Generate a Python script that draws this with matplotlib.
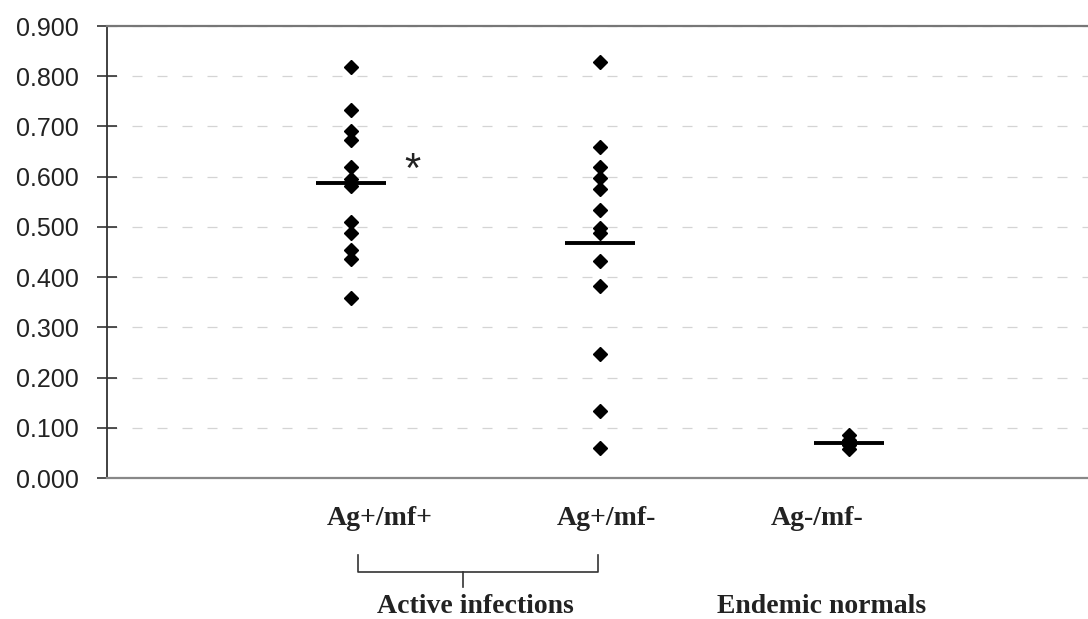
import matplotlib
matplotlib.use("Agg")
import matplotlib.pyplot as plt
import matplotlib.transforms as mtransforms

categories = ["Ag+/mf+", "Ag+/mf-", "Ag-/mf-"]
group1 = [0.819, 0.733, 0.691, 0.673, 0.620, 0.595, 0.582, 0.509, 0.487, 0.454, 0.436, 0.359]
group2 = [0.829, 0.659, 0.620, 0.598, 0.575, 0.533, 0.497, 0.488, 0.432, 0.382, 0.246, 0.133, 0.059]
group3 = [0.085, 0.075, 0.065, 0.058]
medians = [0.588, 0.468, 0.069]
yticks = [0.0, 0.1, 0.2, 0.3, 0.4, 0.5, 0.6, 0.7, 0.8, 0.9]
ytick_labels = ["0.000", "0.100", "0.200", "0.300", "0.400", "0.500", "0.600", "0.700", "0.800", "0.900"]
group_labels = ["Active infections", "Endemic normals"]

fig = plt.figure(figsize=(10.88, 6.19), dpi=100)
ax = fig.add_axes([107/1088, (619-478)/619, 1 - 107/1088, (478-26)/619])

groups = [group1, group2, group3]
for i, g in enumerate(groups):
    ax.plot([i]*len(g), g, linestyle="none", marker="D", markersize=7.5,
            color="black", zorder=3)
    ax.hlines(medians[i], i - 0.14, i + 0.14, color="black", lw=2.8, zorder=4)

# significance star
ax.text(0.246, 0.612, "*", ha="center", va="center", fontsize=30,
        family="Liberation Sans", color="#222222")

ax.set_xlim(-0.98, 2.96)
ax.set_ylim(0, 0.9)
ax.set_yticks(yticks)
ax.set_yticklabels(ytick_labels, family="Liberation Sans", fontsize=18, color="#222222")
ax.tick_params(axis="y", direction="inout", length=14, width=1.2, pad=13, color="#333333")
ax.set_xticks(range(len(categories)))
ax.set_xticklabels([])
ax.tick_params(axis="x", length=0)

trans = mtransforms.blended_transform_factory(ax.transData, ax.transAxes)
label_offsets = [0.116, 0.024, -0.129]
for i, lab in enumerate(categories):
    ax.text(i + label_offsets[i], -0.0885, lab, transform=trans, ha="center", va="center",
            family="Liberation Serif", fontweight="bold", fontsize=20, color="#222222")

ax.spines["right"].set_visible(False)
ax.spines["left"].set_color("#333333")
ax.spines["left"].set_linewidth(1.3)
ax.spines["top"].set_color("#777777")
ax.spines["top"].set_linewidth(1.6)
ax.spines["bottom"].set_color("#888888")
ax.spines["bottom"].set_linewidth(1.6)

ax.yaxis.grid(True, color="#d4d4d4", linestyle=(0, (8, 12)), lw=0.9)
ax.set_axisbelow(True)

# bracket under the first two groups
ax.plot([0.028, 0.028, 0.992, 0.992], [-0.170, -0.208, -0.208, -0.170],
        color="#333333", lw=1.2, transform=trans, clip_on=False)
ax.plot([0.450, 0.450], [-0.208, -0.241], color="#333333", lw=1.2,
        transform=trans, clip_on=False)

ax.text(0.498, -0.285, group_labels[0], transform=trans, ha="center", va="center",
        family="Liberation Serif", fontweight="bold", fontsize=20, color="#222222")
ax.text(1.888, -0.285, group_labels[1], transform=trans, ha="center", va="center",
        family="Liberation Serif", fontweight="bold", fontsize=20, color="#222222")

fig.savefig("out.png", dpi=100)
